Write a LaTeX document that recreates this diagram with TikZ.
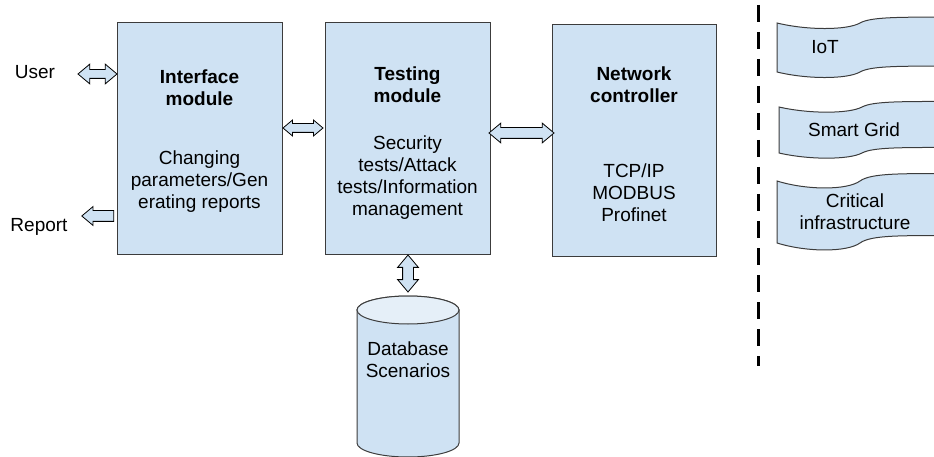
\documentclass[tikz,border=0pt]{standalone}
\usepackage{fontspec}
\setmainfont{Liberation Sans}
\usepackage{xcolor}
\usepackage{tikz}
\usetikzlibrary{shapes.arrows}

\definecolor{paleblue}{HTML}{CFE2F3}
\definecolor{edgegray}{HTML}{3C3C3C}

\tikzset{
  modbox/.style={draw=edgegray, fill=paleblue, line width=1pt, minimum width=165pt, minimum height=231pt},
  modtext/.style={align=center, inner sep=0pt, font=\fontsize{19}{22}\selectfont},
  dblarrow/.style={double arrow, draw=black, fill=paleblue, line width=0.8pt, inner xsep=0pt, inner ysep=4.5pt,
    double arrow head extend=4.5pt, double arrow tip angle=80},
  onearrow/.style={single arrow, draw=black, fill=paleblue, line width=0.8pt, inner xsep=0pt, inner ysep=5pt,
    single arrow head extend=4pt, single arrow tip angle=80},
  flagline/.style={draw=edgegray, fill=paleblue, line width=1pt},
  canline/.style={draw=edgegray, fill=paleblue, line width=1pt}
}

% wavy banner: x, y of top left corner, height
\newcommand{\wavebox}[3]{%
  \draw[flagline] (#1,#2) .. controls ({#1+30},{#2+0.15*#3}) and ({#1+70},{#2+0.15*#3}) .. ({#1+83},{#2})
    .. controls ({#1+94},{#2-0.13*#3}) and ({#1+125},{#2-0.12*#3}) .. ({#1+180},{#2-0.12*#3})
    -- ({#1+180},{#2+0.88*#3})
    .. controls ({#1+125},{#2+0.88*#3}) and ({#1+94},{#2+0.87*#3}) .. ({#1+83},{#2+#3})
    .. controls ({#1+70},{#2+1.15*#3}) and ({#1+30},{#2+1.15*#3}) .. (#1,{#2+#3}) -- cycle;}

\begin{document}
\begin{tikzpicture}[x=1pt, y=-1pt]
\useasboundingbox (0,0) rectangle (934,457);
\clip (0,0) rectangle (934,457);

% modules
\node[modbox] (iface) at (199.5,138.5) {};
\node[modbox] (test) at (407.5,138.5) {};
\node[modbox, minimum width=164pt] (net) at (634,140.5) {};

\node[modtext] (ifacetxt) at (199.5,141) {\textbf{Interface}\\\textbf{module}\\[37pt]Changing\\parameters/Gen\\erating reports};
\node[modtext] (testtxt) at (407.5,143) {\textbf{Testing}\\\textbf{module}\\[25pt]Security\\tests/Attack\\tests/Information\\management};
\node[modtext] (nettxt) at (634,144) {\textbf{Network}\\\textbf{controller}\\[53pt]TCP/IP\\MODBUS\\Profinet};

\node[modtext] (user) at (35,72) {User};
\node[modtext] (report) at (39,227) {Report};

% database
\draw[canline] (357,310) -- (357,443) arc[start angle=180, end angle=0, x radius=51, y radius=14]
  -- (459,310) arc[start angle=0, end angle=-180, x radius=51, y radius=14] -- cycle;
\draw[canline, fill=paleblue!55!white] (408,310) ellipse[x radius=51, y radius=14];
\node[modtext] (db) at (408,360) {Database\\Scenarios};

% links
\node[dblarrow, minimum height=39pt, inner ysep=4pt, double arrow head extend=5.5pt] (userlink) at (97.5,74) {};
\node[dblarrow, minimum height=40pt, inner ysep=4pt, double arrow head extend=3.5pt] (ifacelink) at (303,128) {};
\node[dblarrow, minimum height=65pt, inner ysep=5pt] (netlink) at (521.5,133) {};
\node[dblarrow, minimum height=37pt, inner ysep=5pt, double arrow head extend=5pt, rotate=90] (dblink) at (408,273.5) {};
\node[onearrow, minimum height=32pt, rotate=180] (reportlink) at (101,216) {};

% divider
\draw[line width=3pt, dash pattern=on 17pt off 10pt] (758,5) -- (758,366);

% application areas
\wavebox{777}{23}{49}
\wavebox{779}{107}{46}
\wavebox{777}{181}{62}
\node[modtext] (iot) at (825,47) {IoT};
\node[modtext] (grid) at (854,130) {Smart Grid};
\node[modtext] (crit) at (855,212) {Critical\\infrastructure};
\end{tikzpicture}
\end{document}
